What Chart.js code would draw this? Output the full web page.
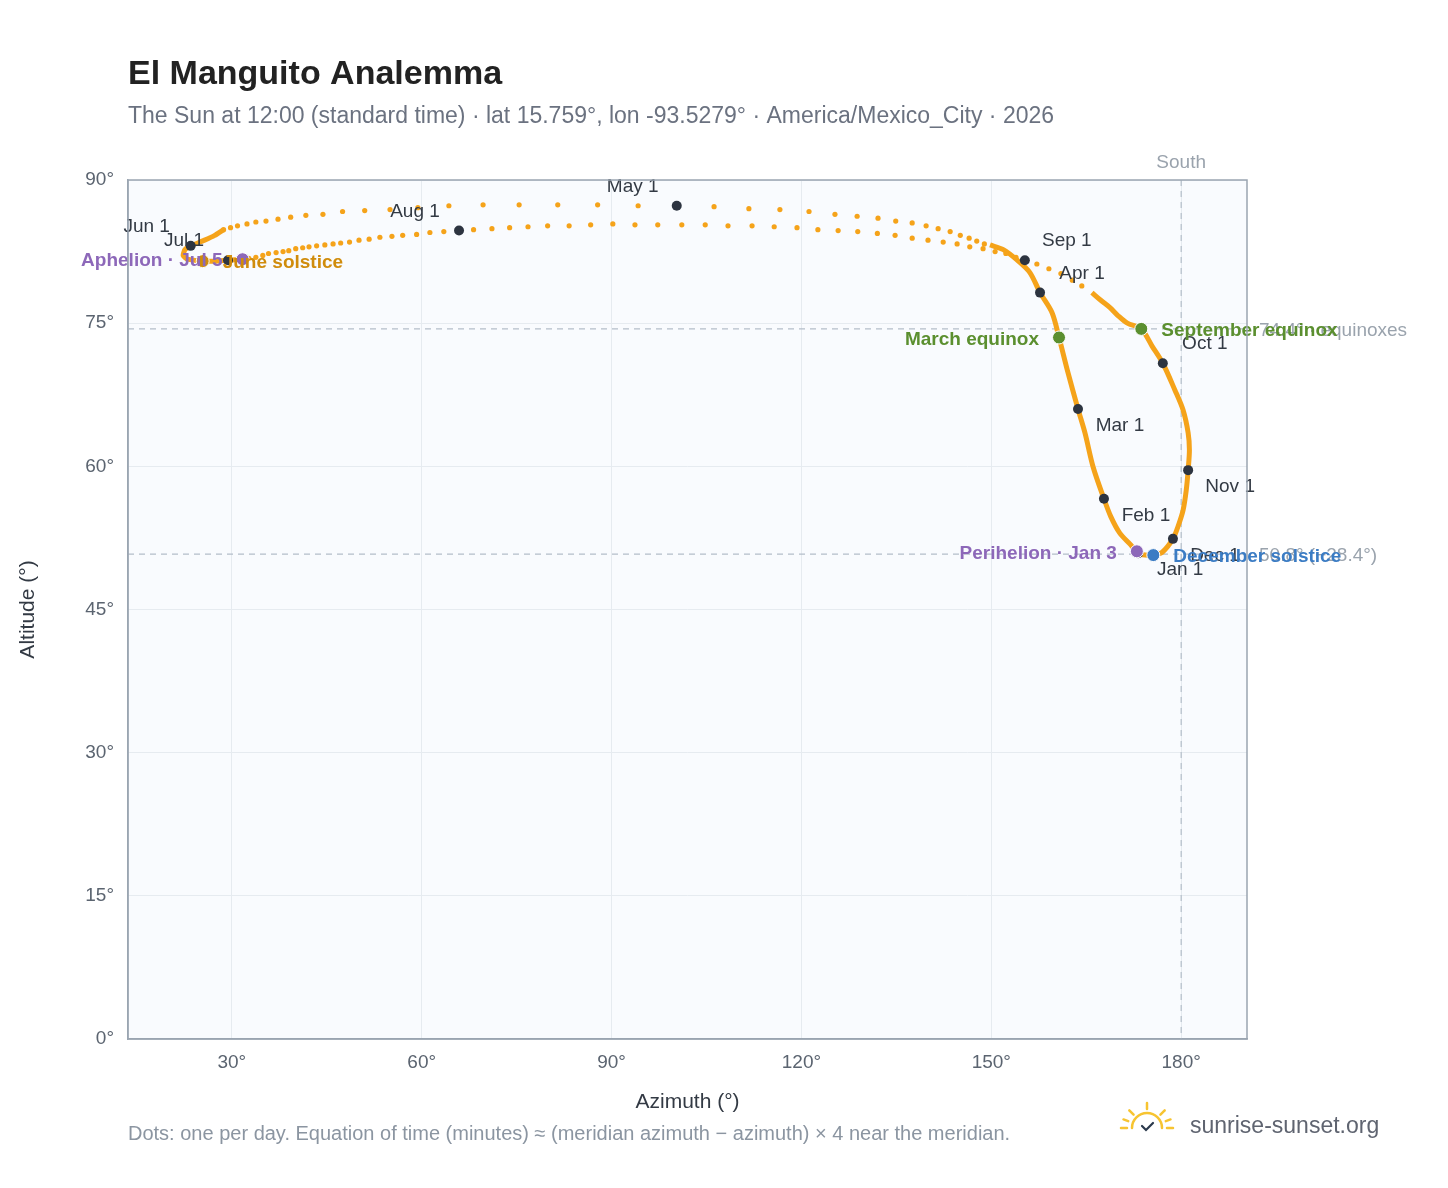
<!DOCTYPE html>
<html>
<head>
<meta charset="utf-8">
<script src="https://cdn.jsdelivr.net/npm/chart.js@4"></script>
<style>
  html,body{margin:0;padding:0;background:#fff;}
  #wrap{position:relative;width:1448px;height:1188px;}
</style>
</head>
<body>
<div id="wrap"><canvas id="chart" width="1448" height="1188"></canvas></div>
<script>
// values: [azimuth, altitude]
const meridianTrack = [ // Sep equinox -> Dec -> Jan -> mid April (dots merge into a line)
  [165.9,78.2],[167.3,77.4],[168.8,76.6],[170.0,75.8],[171.5,75.0],[173.7,74.4],[175.4,72.6],[177.1,70.8],[179.0,68.0],
  [180.3,65.9],[181.1,63.5],[181.3,61.7],[181.1,59.6],[180.8,57.5],[180.3,55.4],[179.5,53.7],
  [178.7,52.4],[177.0,51.0],[175.6,50.7],[174.3,50.7],[173.2,50.9],[172.0,51.8],[170.3,53.0],
  [168.9,54.7],[167.8,56.6],[166.1,59.9],[164.8,63.5],[163.7,66.0],[162.0,70.1],[160.7,73.5],
  [159.6,76.1],[157.7,78.2],[156.1,80.3],[154.1,81.6],[151.9,82.7],[149.8,83.2]
];
const springDots = [ // mid April -> late May, one per day
  [148.9,83.3],[147.7,83.6],[146.5,83.9],[145.1,84.2],[143.5,84.6],[141.6,84.9],[139.7,85.2],
  [137.5,85.5],[134.9,85.7],[132.1,86.0],[128.8,86.2],[125.3,86.4],[121.2,86.7],[116.6,86.9],
  [111.7,87.0],[106.2,87.2],[100.3,87.3],[94.2,87.3],[87.8,87.4],[81.5,87.4],[75.4,87.4],
  [69.7,87.4],[64.3,87.3],[59.4,87.1],[55.0,86.9],[51.0,86.8],[47.5,86.7],[44.4,86.4],
  [41.7,86.3],[39.3,86.1],[37.3,85.9],[35.4,85.7],[33.8,85.6],[32.4,85.4],[30.9,85.2],
  [29.8,85.0],[28.7,84.8]
];
const solsticeTrack = [ // late May -> Jul 5
  [28.7,84.8],[27.3,84.2],[25.7,83.7],[23.5,83.1],[22.6,82.7],[22.3,82.1],[23.0,81.7],
  [25.4,81.5],[27.3,81.5],[29.4,81.6],[31.7,81.7]
];
const summerDots = [ // Jul 5 -> mid September, one per day
  [32.7,81.8],[33.8,81.9],[34.9,82.1],[35.8,82.3],[37.0,82.4],[38.1,82.5],[39.0,82.6],
  [40.1,82.8],[41.2,82.9],[42.2,83.0],[43.4,83.1],[44.7,83.2],[46.0,83.3],[47.2,83.4],
  [48.6,83.5],[50.1,83.7],[51.7,83.8],[53.4,84.0],[55.3,84.1],[57.0,84.2],[59.2,84.3],
  [61.3,84.5],[63.5,84.6],[65.9,84.7],[68.2,84.8],[71.1,84.9],[73.9,85.0],[76.8,85.1],
  [79.9,85.2],[83.3,85.2],[86.7,85.3],[90.2,85.4],[93.7,85.3],[97.3,85.3],[101.1,85.3],
  [104.8,85.3],[108.4,85.2],[112.2,85.2],[115.7,85.1],[119.3,85.0],[122.6,84.8],[125.8,84.7],
  [128.9,84.6],[132.0,84.4],[134.8,84.2],[137.5,83.9],[140.0,83.7],[142.4,83.5],[144.6,83.3],
  [146.6,83.0],[148.7,82.8],[150.6,82.5],[152.3,82.3],[153.9,81.9],[155.3,81.6],[157.2,81.2],
  [159.1,80.7],[161.0,80.2],[162.8,79.5],[164.3,78.9]
];

const monthNames = ['Jan 1','Feb 1','Mar 1','Apr 1','May 1','Jun 1','Jul 1','Aug 1','Sep 1','Oct 1','Nov 1','Dec 1'];
const monthAz  = [173.2,167.8,163.7,157.7,100.3,23.5,29.4,65.9,155.3,177.1,181.1,178.7];
const monthAlt = [50.9,56.6,66.0,78.2,87.3,83.1,81.6,84.7,81.6,70.8,59.6,52.4];
const monthSide = ['rd','rd','rd','ru','lu','lu','lu','lu','ru','ru','rd','rd'];

const eventNames = ['March equinox','June solstice','September equinox','December solstice','Perihelion · Jan 3','Aphelion · Jul 5'];
const eventAz  = [160.7,25.4,173.7,175.6,173.0,31.7];
const eventAlt = [73.5,81.5,74.4,50.7,51.1,81.7];
const eventColor = ['#5b8f2f','#d08c0c','#5b8f2f','#3b7cc4','#8d68b9','#8d68b9'];
const eventSide = ['l','r','r','r','l','l'];

const xTicks = [30,60,90,120,150,180];
const yTicks = [0,15,30,45,60,75,90];
const equinoxAlt = 74.4, decAlt = 50.8;

const pts = a => a.map(p => ({x:p[0], y:p[1]}));
const ORANGE = '#f5a31a';
const FONT = '"Liberation Sans", Arial, sans-serif';

const overlay = {
  id:'overlay',
  beforeDraw(c){
    const {ctx, chartArea:a} = c;
    ctx.save(); ctx.fillStyle='#fff'; ctx.fillRect(0,0,c.width,c.height);
    ctx.fillStyle='#f9fbfe'; ctx.fillRect(a.left,a.top,a.right-a.left,a.bottom-a.top); ctx.restore();
  },
  beforeDatasetsDraw(c){
    const {ctx, chartArea:a, scales:{x,y}} = c;
    ctx.save(); ctx.setLineDash([6,5]); ctx.strokeStyle='#b4bec9'; ctx.lineWidth=1.2;
    [equinoxAlt, decAlt].forEach(v => { const py=y.getPixelForValue(v); ctx.beginPath(); ctx.moveTo(a.left,py); ctx.lineTo(a.right,py); ctx.stroke(); });
    const sx = x.getPixelForValue(180); ctx.beginPath(); ctx.moveTo(sx,a.top); ctx.lineTo(sx,a.bottom); ctx.stroke();
    ctx.setLineDash([]);
    ctx.fillStyle='#9aa3ad'; ctx.font='19px '+FONT; ctx.textAlign='center'; ctx.textBaseline='bottom';
    ctx.fillText('South', sx, a.top-8);
    ctx.textAlign='left'; ctx.textBaseline='middle';
    ctx.fillText('74.4° · equinoxes', a.right+12, y.getPixelForValue(equinoxAlt)+2);
    ctx.fillText('50.8° (−28.4°)', a.right+12, y.getPixelForValue(decAlt)+2);
    ctx.restore();
  },
  afterDatasetsDraw(c){
    const {ctx, scales:{x,y}} = c;
    ctx.save();
    ctx.font='19px '+FONT; ctx.fillStyle='#333a44'; ctx.textBaseline='middle';
    monthNames.forEach((n,i) => {
      const px=x.getPixelForValue(monthAz[i]), py=y.getPixelForValue(monthAlt[i]);
      const s=monthSide[i];
      ctx.textAlign='center';
      const dx = s[0]==='l' ? -44 : 42, dy = s[1]==='u' ? -19 : 17;
      ctx.fillText(n, px+dx, py+dy);
    });
    ctx.font='bold 19px '+FONT;
    eventNames.forEach((n,i) => {
      const px=x.getPixelForValue(eventAz[i]), py=y.getPixelForValue(eventAlt[i]);
      ctx.fillStyle=eventColor[i];
      ctx.textAlign = eventSide[i]==='l' ? 'right' : 'left';
      ctx.fillText(n, px + (eventSide[i]==='l' ? -20 : 20), py+2);
    });
    ctx.restore();
  },
  afterDraw(c){
    const {ctx, chartArea:a} = c;
    ctx.save();
    ctx.strokeStyle='#9aa5b1'; ctx.lineWidth=1.5; ctx.strokeRect(a.left,a.top,a.right-a.left,a.bottom-a.top);
    ctx.textBaseline='alphabetic'; ctx.textAlign='left';
    ctx.fillStyle='#222'; ctx.font='bold 34px '+FONT; ctx.fillText('El Manguito Analemma', 128, 84);
    ctx.fillStyle='#6b7280'; ctx.font='23px '+FONT;
    ctx.fillText('The Sun at 12:00 (standard time) · lat 15.759°, lon -93.5279° · America/Mexico_City · 2026', 128, 123);
    ctx.fillStyle='#8b95a1'; ctx.font='20px '+FONT;
    ctx.fillText('Dots: one per day. Equation of time (minutes) ≈ (meridian azimuth − azimuth) × 4 near the meridian.', 128, 1140);
    ctx.fillStyle='#5f6470'; ctx.font='23px '+FONT;
    ctx.fillText('sunrise-sunset.org', 1190, 1133);
    // sun logo
    const cx=1147, cy=1128;
    ctx.strokeStyle='#f7c431'; ctx.lineWidth=2.5; ctx.lineCap='round';
    ctx.beginPath(); ctx.arc(cx,cy,15,Math.PI,2*Math.PI); ctx.stroke();
    ctx.beginPath(); ctx.moveTo(cx-26,cy); ctx.lineTo(cx-20,cy); ctx.moveTo(cx+20,cy); ctx.lineTo(cx+26,cy); ctx.stroke();
    [-135,-90,-45].forEach(d => { const r=d*Math.PI/180; ctx.beginPath();
      ctx.moveTo(cx+Math.cos(r)*19, cy+Math.sin(r)*19); ctx.lineTo(cx+Math.cos(r)*25, cy+Math.sin(r)*25); ctx.stroke(); });
    [-160,-20].forEach(d => { const r=d*Math.PI/180; ctx.beginPath();
      ctx.moveTo(cx+Math.cos(r)*20, cy+Math.sin(r)*20); ctx.lineTo(cx+Math.cos(r)*25, cy+Math.sin(r)*25); ctx.stroke(); });
    ctx.strokeStyle='#2b3a4d'; ctx.lineWidth=2.2;
    ctx.beginPath(); ctx.moveTo(cx-5,cy-2); ctx.lineTo(cx-1,cy+2); ctx.lineTo(cx+6,cy-5); ctx.stroke();
    ctx.restore();
  }
};

new Chart(document.getElementById('chart'), {
  type:'scatter',
  data:{ datasets:[
    { data:eventAz.map((v,i)=>({x:v,y:eventAlt[i]})), showLine:false, backgroundColor:eventColor, borderColor:'#fff', borderWidth:1, pointRadius:6.5 },
    { data:monthAz.map((v,i)=>({x:v,y:monthAlt[i]})), showLine:false, backgroundColor:'#2d3440', borderWidth:0, pointRadius:5 },
    { data:pts(springDots), showLine:false, backgroundColor:ORANGE, pointRadius:2.6, borderWidth:0 },
    { data:pts(summerDots), showLine:false, backgroundColor:ORANGE, pointRadius:2.6, borderWidth:0 },
    { data:pts(meridianTrack), showLine:true, borderColor:ORANGE, borderWidth:5, pointRadius:0, tension:0.3 },
    { data:pts(solsticeTrack), showLine:true, borderColor:ORANGE, borderWidth:5, pointRadius:0, tension:0.15 }
  ]},
  options:{
    responsive:false, animation:false, devicePixelRatio:1,
    layout:{ padding:{ left:12, top:180, right:201, bottom:69 } },
    plugins:{ legend:{display:false}, tooltip:{enabled:false} },
    scales:{
      x:{ type:'linear', min:13.6, max:190.4,
        afterBuildTicks: s => { s.ticks = xTicks.map(v=>({value:v})); },
        afterFit: s => { s.height = 80; },
        grid:{ color:'#e6ebf0', drawTicks:false },
        border:{ color:'#9aa5b1', width:1.5 },
        ticks:{ color:'#5b6470', font:{size:19, family:FONT}, padding:12, callback:v=>v+'°' },
        title:{ display:true, text:'Azimuth (°)', color:'#333a44', font:{size:21, family:FONT}, padding:{top:8} }
      },
      y:{ type:'linear', min:0, max:90,
        afterBuildTicks: s => { s.ticks = yTicks.map(v=>({value:v})); },
        afterFit: s => { s.width = 116; },
        grid:{ color:'#e6ebf0', drawTicks:false },
        border:{ color:'#9aa5b1', width:1.5 },
        ticks:{ color:'#5b6470', font:{size:19, family:FONT}, padding:14, callback:v=>v+'°' },
        title:{ display:true, text:'Altitude (°)', color:'#333a44', font:{size:21, family:FONT}, padding:{bottom:0} }
      }
    }
  },
  plugins:[overlay]
});
</script>
</body>
</html>
